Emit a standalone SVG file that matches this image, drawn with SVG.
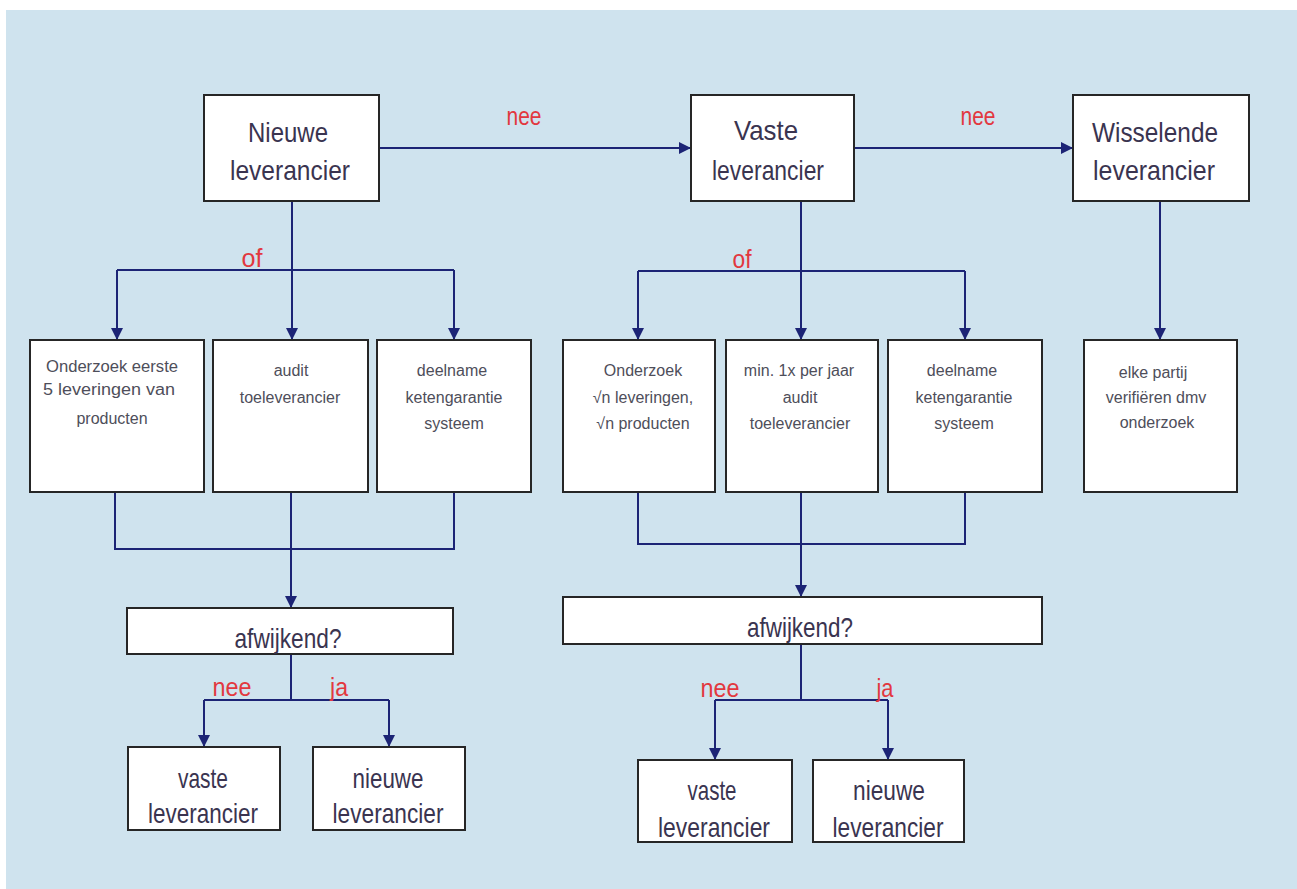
<svg xmlns="http://www.w3.org/2000/svg" width="1297" height="889" viewBox="0 0 1297 889">
<defs>
<marker id="arr" viewBox="0 0 12 12" refX="12" refY="6" markerWidth="12" markerHeight="12" markerUnits="userSpaceOnUse" orient="auto">
<path d="M0,0 L12,6 L0,12 Z" fill="#1c2475"/>
</marker>
<style>
.box{fill:#ffffff;stroke:#262626;stroke-width:2}
.big{font-family:"Liberation Sans",Arial,sans-serif;font-size:28px;fill:#3a3450;text-anchor:middle}
.sm{font-family:"Liberation Sans",Arial,sans-serif;font-size:16px;fill:#4e4e5a;text-anchor:middle}
.lbl{font-family:"Liberation Sans",Arial,sans-serif;font-size:25px;fill:#e2383f;text-anchor:middle}
.ln{fill:none;stroke:#1c2475;stroke-width:2}
.ar{fill:none;stroke:#1c2475;stroke-width:2;marker-end:url(#arr)}
</style>
</defs>
<rect x="0" y="0" width="1297" height="889" fill="#ffffff"/>
<rect x="6" y="10" width="1291" height="879" fill="#cfe3ee"/>

<g id="connectors">
<path class="ar" d="M379,148 H691"/>
<path class="ar" d="M854,148 H1073"/>
<path class="ln" d="M292,201 V270"/>
<path class="ar" d="M117,270 V340"/>
<path class="ar" d="M292,270 V340"/>
<path class="ar" d="M454,270 V340"/>
<path class="ln" d="M117,270 H454"/>
<path class="ln" d="M115,492 V549 H454 V492"/>
<path class="ar" d="M291,492 V608"/>
<path class="ln" d="M291,654 V700"/>
<path class="ln" d="M204,700 H389"/>
<path class="ar" d="M204,700 V747"/>
<path class="ar" d="M389,700 V747"/>
<path class="ln" d="M801,201 V271"/>
<path class="ln" d="M638,271 H965"/>
<path class="ar" d="M638,271 V340"/>
<path class="ar" d="M801,271 V340"/>
<path class="ar" d="M965,271 V340"/>
<path class="ln" d="M638,492 V544 H965 V492"/>
<path class="ar" d="M801,492 V597"/>
<path class="ln" d="M801,644 V700"/>
<path class="ln" d="M715,700 H888"/>
<path class="ar" d="M715,700 V760"/>
<path class="ar" d="M888,700 V760"/>
<path class="ar" d="M1160,201 V340"/>
<text class="lbl" x="524" y="125" textLength="35" lengthAdjust="spacingAndGlyphs">nee</text>
<text class="lbl" x="978" y="125" textLength="35" lengthAdjust="spacingAndGlyphs">nee</text>
<text class="lbl" x="252" y="267" textLength="21" lengthAdjust="spacingAndGlyphs">of</text>
<text class="lbl" x="742" y="268" textLength="19" lengthAdjust="spacingAndGlyphs">of</text>
<text class="lbl" x="232" y="696" textLength="39" lengthAdjust="spacingAndGlyphs">nee</text>
<text class="lbl" x="339" y="696" textLength="18" lengthAdjust="spacingAndGlyphs">ja</text>
<text class="lbl" x="720" y="697" textLength="39" lengthAdjust="spacingAndGlyphs">nee</text>
<text class="lbl" x="885" y="697" textLength="17" lengthAdjust="spacingAndGlyphs">ja</text>
</g>

<g id="nieuwe-leverancier">
<rect class="box" x="204" y="95" width="175" height="106"/>
<text class="big" x="288" y="142" textLength="80" lengthAdjust="spacingAndGlyphs">Nieuwe</text>
<text class="big" x="290" y="180" textLength="120" lengthAdjust="spacingAndGlyphs">leverancier</text>
</g>
<g id="vaste-leverancier">
<rect class="box" x="691" y="95" width="163" height="106"/>
<text class="big" x="766" y="140" textLength="64" lengthAdjust="spacingAndGlyphs">Vaste</text>
<text class="big" x="768" y="180" textLength="112" lengthAdjust="spacingAndGlyphs">leverancier</text>
</g>
<g id="wisselende-leverancier">
<rect class="box" x="1073" y="95" width="176" height="106"/>
<text class="big" x="1155" y="142" textLength="126" lengthAdjust="spacingAndGlyphs">Wisselende</text>
<text class="big" x="1154" y="180" textLength="122" lengthAdjust="spacingAndGlyphs">leverancier</text>
</g>

<g id="onderzoek-eerste">
<rect class="box" x="30" y="340" width="174" height="152"/>
<text class="sm" x="112" y="372" textLength="132" lengthAdjust="spacingAndGlyphs">Onderzoek eerste</text>
<text class="sm" x="109" y="395" textLength="132" lengthAdjust="spacingAndGlyphs">5 leveringen van</text>
<text class="sm" x="112" y="424">producten</text>
</g>
<g id="audit-1">
<rect class="box" x="213" y="340" width="155" height="152"/>
<text class="sm" x="291" y="376">audit</text>
<text class="sm" x="290" y="403">toeleverancier</text>
</g>
<g id="deelname-1">
<rect class="box" x="377" y="340" width="154" height="152"/>
<text class="sm" x="452" y="376">deelname</text>
<text class="sm" x="454" y="403">ketengarantie</text>
<text class="sm" x="454" y="429">systeem</text>
</g>
<g id="onderzoek-vn">
<rect class="box" x="563" y="340" width="152" height="152"/>
<text class="sm" x="643" y="376">Onderzoek</text>
<text class="sm" x="643" y="403">√n leveringen,</text>
<text class="sm" x="643" y="429">√n producten</text>
</g>
<g id="audit-2">
<rect class="box" x="726" y="340" width="152" height="152"/>
<text class="sm" x="799" y="376">min. 1x per jaar</text>
<text class="sm" x="800" y="403">audit</text>
<text class="sm" x="800" y="429">toeleverancier</text>
</g>
<g id="deelname-2">
<rect class="box" x="888" y="340" width="154" height="152"/>
<text class="sm" x="962" y="376">deelname</text>
<text class="sm" x="964" y="403">ketengarantie</text>
<text class="sm" x="964" y="429">systeem</text>
</g>
<g id="elke-partij">
<rect class="box" x="1084" y="340" width="153" height="152"/>
<text class="sm" x="1153" y="378">elke partij</text>
<text class="sm" x="1156" y="403">verifiëren dmv</text>
<text class="sm" x="1157" y="428">onderzoek</text>
</g>

<g id="afwijkend-1">
<rect class="box" x="127" y="608" width="326" height="46"/>
<text class="big" x="288" y="648" font-size="26" textLength="107" lengthAdjust="spacingAndGlyphs">afwijkend?</text>
</g>
<g id="afwijkend-2">
<rect class="box" x="563" y="597" width="479" height="47"/>
<text class="big" x="800" y="637" font-size="26" textLength="106" lengthAdjust="spacingAndGlyphs">afwijkend?</text>
</g>

<g id="vaste-1">
<rect class="box" x="128" y="747" width="152" height="83"/>
<text class="big" x="203" y="788" textLength="50" lengthAdjust="spacingAndGlyphs">vaste</text>
<text class="big" x="203" y="823" textLength="110" lengthAdjust="spacingAndGlyphs">leverancier</text>
</g>
<g id="nieuwe-1">
<rect class="box" x="313" y="747" width="152" height="83"/>
<text class="big" x="388" y="788" textLength="71" lengthAdjust="spacingAndGlyphs">nieuwe</text>
<text class="big" x="388" y="823" textLength="111" lengthAdjust="spacingAndGlyphs">leverancier</text>
</g>
<g id="vaste-2">
<rect class="box" x="638" y="760" width="154" height="82"/>
<text class="big" x="712" y="800" textLength="49" lengthAdjust="spacingAndGlyphs">vaste</text>
<text class="big" x="714" y="837" textLength="112" lengthAdjust="spacingAndGlyphs">leverancier</text>
</g>
<g id="nieuwe-2">
<rect class="box" x="813" y="760" width="151" height="82"/>
<text class="big" x="889" y="800" textLength="72" lengthAdjust="spacingAndGlyphs">nieuwe</text>
<text class="big" x="888" y="837" textLength="111" lengthAdjust="spacingAndGlyphs">leverancier</text>
</g>
</svg>
